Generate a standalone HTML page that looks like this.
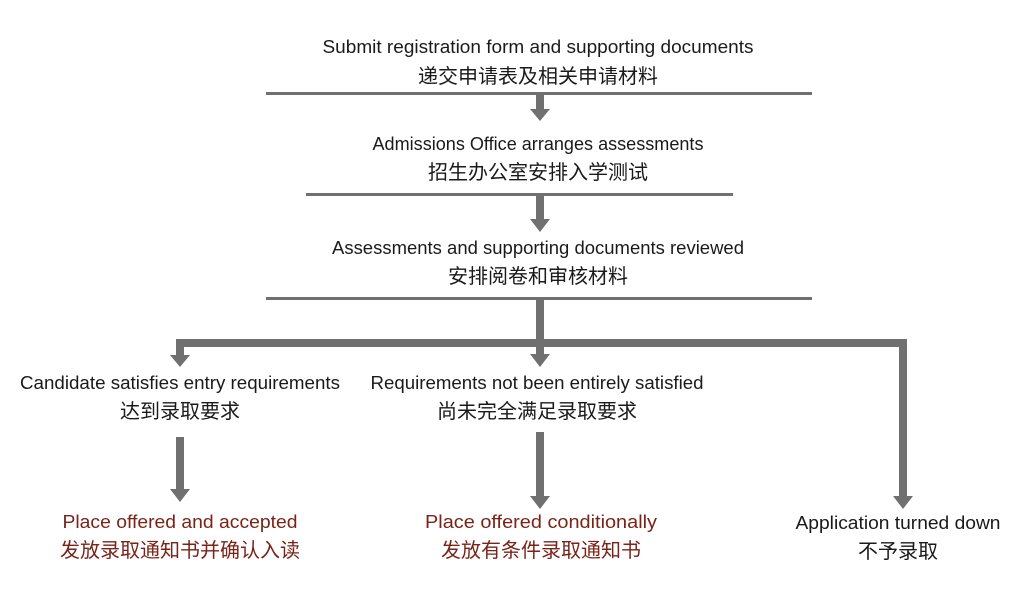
<!DOCTYPE html>
<html><head><meta charset="utf-8"><style>
html,body{margin:0;padding:0;background:#fff;}
svg{display:block;}
text{font-family:"Liberation Sans","Noto Sans CJK SC",sans-serif;font-size:18px;fill:#1a1a1a;}
text.c{font-size:20px;}
.r{fill:#7a2318;}
</style></head><body>
<svg width="1022" height="600" viewBox="0 0 1022 600" xmlns="http://www.w3.org/2000/svg">
<g fill="#707070">
<rect x="266" y="92" width="546" height="3"/>
<rect x="306" y="193" width="427" height="3"/>
<rect x="266" y="297" width="546" height="3"/>
<rect x="536" y="95" width="8" height="15"/>
<polygon points="530,109 550,109 540,121"/>
<rect x="536" y="196" width="8" height="24"/>
<polygon points="530,219 550,219 540,232"/>
<rect x="536" y="300" width="8" height="55"/>
<rect x="176" y="339" width="731" height="8"/>
<polygon points="530,354 550,354 540,367"/>
<rect x="176" y="339" width="8" height="17"/>
<polygon points="170,355 190,355 180,367"/>
<rect x="899" y="339" width="8" height="158"/>
<polygon points="893,496 913,496 903,509"/>
<rect x="176" y="437" width="8" height="53"/>
<polygon points="170,489 190,489 180,502"/>
<rect x="536" y="432" width="8" height="65"/>
<polygon points="530,496 550,496 540,509"/>
</g>
<g text-anchor="middle">
<text x="538" y="53" textLength="431" lengthAdjust="spacingAndGlyphs">Submit registration form and supporting documents</text>
<text class="c" x="538" y="83">递交申请表及相关申请材料</text>
<text x="538" y="150" textLength="331" lengthAdjust="spacingAndGlyphs">Admissions Office arranges assessments</text>
<text class="c" x="538" y="179">招生办公室安排入学测试</text>
<text x="538" y="254" textLength="412" lengthAdjust="spacingAndGlyphs">Assessments and supporting documents reviewed</text>
<text class="c" x="538" y="283">安排阅卷和审核材料</text>
<text x="180" y="389" textLength="320" lengthAdjust="spacingAndGlyphs">Candidate satisfies entry requirements</text>
<text class="c" x="180" y="418">达到录取要求</text>
<text x="537" y="389" textLength="333" lengthAdjust="spacingAndGlyphs">Requirements not been entirely satisfied</text>
<text class="c" x="537" y="418">尚未完全满足录取要求</text>
<text class="r" x="180" y="528" textLength="235" lengthAdjust="spacingAndGlyphs">Place offered and accepted</text>
<text class="r c" x="180" y="557">发放录取通知书并确认入读</text>
<text class="r" x="541" y="528" textLength="232" lengthAdjust="spacingAndGlyphs">Place offered conditionally</text>
<text class="r c" x="541" y="557">发放有条件录取通知书</text>
<text x="898" y="529" textLength="205" lengthAdjust="spacingAndGlyphs">Application turned down</text>
<text class="c" x="898" y="558">不予录取</text>
</g>
</svg>
</body></html>
